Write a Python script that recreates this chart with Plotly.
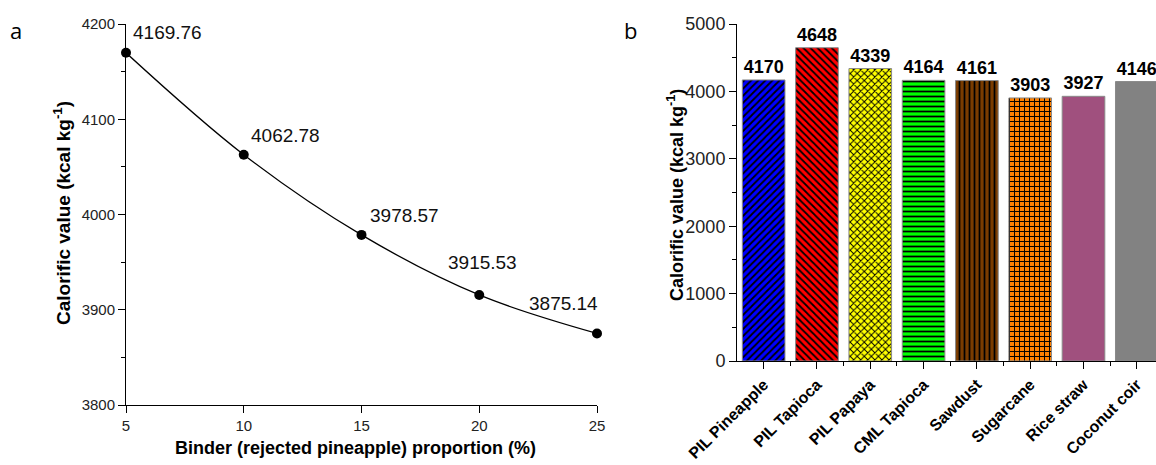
import plotly.graph_objects as go

# ---------------- data ----------------
binder_pct = [5, 10, 15, 20, 25]
calorific_a = [4169.76, 4062.78, 3978.57, 3915.53, 3875.14]
labels_a = ["4169.76", "4062.78", "3978.57", "3915.53", "3875.14"]
xticks_a = [5, 10, 15, 20, 25]
yticks_a = [3800, 3900, 4000, 4100, 4200]

materials = ["PIL Pineapple", "PIL Tapioca", "PIL Papaya", "CML Tapioca",
             "Sawdust", "Sugarcane", "Rice straw", "Coconut coir"]
calorific_b = [4170, 4648, 4339, 4164, 4161, 3903, 3927, 4146]
yticks_b = [0, 1000, 2000, 3000, 4000, 5000]

# ---------------- styles ----------------
bar_colors = ["#0000FF", "#FF0000", "#FFFF00", "#00FF00",
              "#7A3C00", "#FF8000", "#A0507E", "#828282"]
bar_patterns = ["/", "\\", "x", "-", "|", "+", "", ""]
# label placement for panel a (xshift, yshift, xanchor)
label_style_a = [(5, 20, "left"), (5, 19, "left"), (6, 19, "left"),
                 (3, 32, "center"), (3, 30, "right")]

W, H = 1156, 465
FONT = "Liberation Sans, Arial, sans-serif"

fig = go.Figure()

fig.add_trace(go.Scatter(
    x=binder_pct, y=calorific_a, mode="lines+markers",
    line=dict(shape="spline", color="black", width=1.3),
    marker=dict(size=10, color="black"),
    cliponaxis=False, xaxis="x", yaxis="y", showlegend=False))

idx = list(range(len(materials)))
for i, (v, c, p) in enumerate(zip(calorific_b, bar_colors, bar_patterns)):
    mk = dict(color=c, line=dict(color="#8a8a8a", width=1))
    if p:
        mk["pattern"] = dict(shape=p, fgcolor="black", bgcolor=c,
                             fillmode="replace", size=5, solidity=0.35)
    fig.add_trace(go.Bar(
        x=[idx[i]], y=[v], marker=mk,
        text=[str(v)], textposition="outside",
        textfont=dict(family=FONT, size=18, color="black", weight="bold"),
        constraintext="none", cliponaxis=False,
        xaxis="x2", yaxis="y2", showlegend=False))

axis_common = dict(showline=True, linecolor="black", linewidth=1,
                   showgrid=False, zeroline=False, ticks="outside",
                   tickcolor="black", ticklen=7, tickwidth=1,
                   automargin=False)

fig.update_layout(
    width=W, height=H,
    margin=dict(l=0, r=0, t=0, b=0, pad=0),
    paper_bgcolor="white", plot_bgcolor="white",
    barmode="overlay", bargap=0.2,
    font=dict(family=FONT, color="black"),
    xaxis=dict(domain=[126 / W, 597 / W], range=[5, 25], tickvals=xticks_a,
               anchor="y", tickfont=dict(size=15, color="#222"), **axis_common),
    yaxis=dict(domain=[1 - 405 / H, 1 - 24 / H], range=[3800, 4200],
               tickvals=yticks_a, anchor="x",
               tickfont=dict(size=15, color="#222"),
               minor=dict(dtick=50, ticks="outside", ticklen=4,
                          tickcolor="black"),
               **axis_common),
    xaxis2=dict(domain=[737 / W, 1], range=[-0.5, 7.36], tickvals=idx,
                ticktext=materials, tickangle=-45, anchor="y2",
                tickfont=dict(size=16, color="black", weight="bold"),
                minor=dict(tickvals=[i + 0.5 for i in idx], ticks="outside",
                           ticklen=4, tickcolor="black"),
                **axis_common),
    yaxis2=dict(domain=[1 - 361 / H, 1 - 24 / H], range=[0, 5000],
                tickvals=yticks_b, anchor="x2",
                tickfont=dict(size=18, color="#222"),
                minor=dict(dtick=500, ticks="outside", ticklen=4,
                           tickcolor="black"),
                **axis_common),
)

annotations = []
for x, y, t, (xs, ys, xa) in zip(binder_pct, calorific_a, labels_a, label_style_a):
    annotations.append(dict(x=x, y=y, xref="x", yref="y", text=t,
                            showarrow=False, xanchor=xa, yanchor="middle",
                            xshift=xs, yshift=ys,
                            font=dict(size=19, color="#111", family=FONT)))

# axis titles and panel letters
annotations += [
    dict(x=355 / W, y=1 - 448 / H, xref="paper", yref="paper",
         text="Binder (rejected pineapple) proportion (%)", showarrow=False,
         xanchor="center", yanchor="middle",
         font=dict(size=18, weight="bold", family=FONT)),
    dict(x=62 / W, y=1 - 213 / H, xref="paper", yref="paper",
         text="Calorific value (kcal kg<sup>-1</sup>)", textangle=-90,
         showarrow=False, xanchor="center", yanchor="middle",
         font=dict(size=19, weight="bold", family=FONT)),
    dict(x=675 / W, y=1 - 195 / H, xref="paper", yref="paper",
         text="Calorific value (kcal kg<sup>-1</sup>)", textangle=-90,
         showarrow=False, xanchor="center", yanchor="middle",
         font=dict(size=18, weight="bold", family=FONT)),
    dict(x=16 / W, y=1 - 30 / H, xref="paper", yref="paper", text="a",
         showarrow=False, xanchor="center", yanchor="middle",
         font=dict(size=22, family="Open Sans, sans-serif")),
    dict(x=630 / W, y=1 - 30 / H, xref="paper", yref="paper", text="b",
         showarrow=False, xanchor="center", yanchor="middle",
         font=dict(size=22, family="Open Sans, sans-serif")),
]
fig.update_layout(annotations=annotations)

fig.write_html("out.html",
               config={"displayModeBar": False},
               post_script="document.body.style.margin='0px';"
                           "document.body.style.overflow='hidden';")
